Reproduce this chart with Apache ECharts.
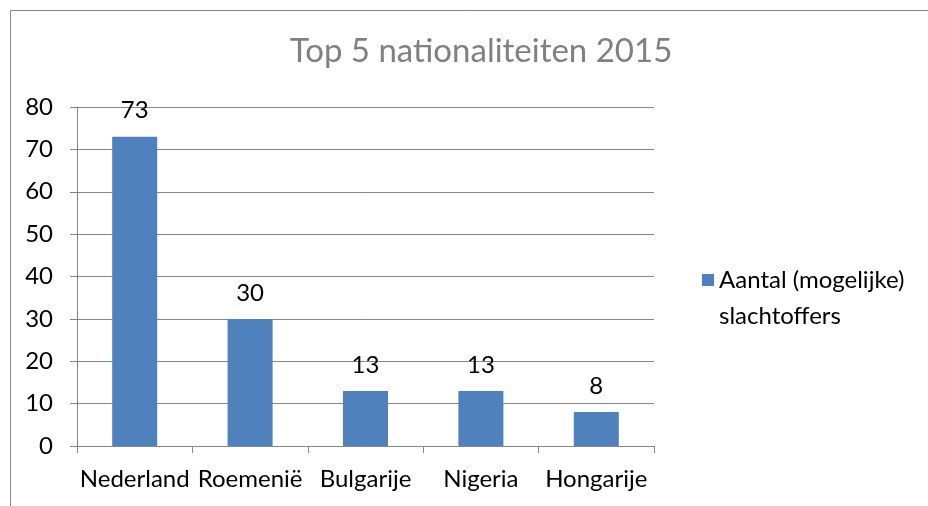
<!DOCTYPE html>
<html><head><meta charset="utf-8">
<script src="https://cdn.jsdelivr.net/npm/echarts@6/dist/echarts.min.js"></script>
<style>html,body{margin:0;padding:0;background:#fff}#c{width:928px;height:506px}</style>
</head><body><div id="c"></div>
<script>
const categories = ['Nederland', 'Roemenië', 'Bulgarije', 'Nigeria', 'Hongarije'];
const values = [73, 30, 13, 13, 8];
const seriesName = 'Aantal (mogelijke) slachtoffers';
const titleText = 'Top 5 nationaliteiten 2015';

const chart = echarts.init(document.getElementById('c'));
const font = 'Lato, "Open Sans", sans-serif';
chart.setOption({
  animation: false,
  graphic: [{type: 'rect', left: 8, top: 8, shape: {width: 960, height: 560}, style: {fill: 'none', stroke: '#868686', lineWidth: 1}, silent: true}],
  title: {text: titleText, left: 476, textAlign: 'center', top: 30,
    textStyle: {color: '#808080', fontFamily: font, fontSize: 33, fontWeight: 'normal'}},
  legend: {data: [seriesName], left: 697, top: 221, itemWidth: 12, itemHeight: 12, itemGap: 0,
    icon: 'rect',
    formatter: () => '\nAantal (mogelijke)\nslachtoffers',
    textStyle: {color: '#000', fontFamily: font, fontSize: 24, lineHeight: 36}},
  grid: {left: 77, right: 274, top: 107, bottom: 60},
  xAxis: {type: 'category', data: categories,
    axisLine: {lineStyle: {color: '#868686'}},
    axisTick: {show: true, length: 7, lineStyle: {color: '#868686'}},
    axisLabel: {color: '#000', fontFamily: font, fontSize: 24, margin: 21, interval: 0}},
  yAxis: {type: 'value', min: 0, max: 80, interval: 10,
    axisLine: {show: true, lineStyle: {color: '#868686'}},
    axisTick: {show: true, length: 7, lineStyle: {color: '#868686'}},
    splitLine: {lineStyle: {color: '#868686'}},
    axisLabel: {color: '#000', fontFamily: font, fontSize: 24, margin: 24}},
  series: [{name: seriesName, type: 'bar', data: values, barWidth: '39%',
    itemStyle: {color: '#4F81BD'},
    label: {show: true, position: 'top', distance: 14, color: '#000', fontFamily: font, fontSize: 24}}]
});
</script></body></html>
